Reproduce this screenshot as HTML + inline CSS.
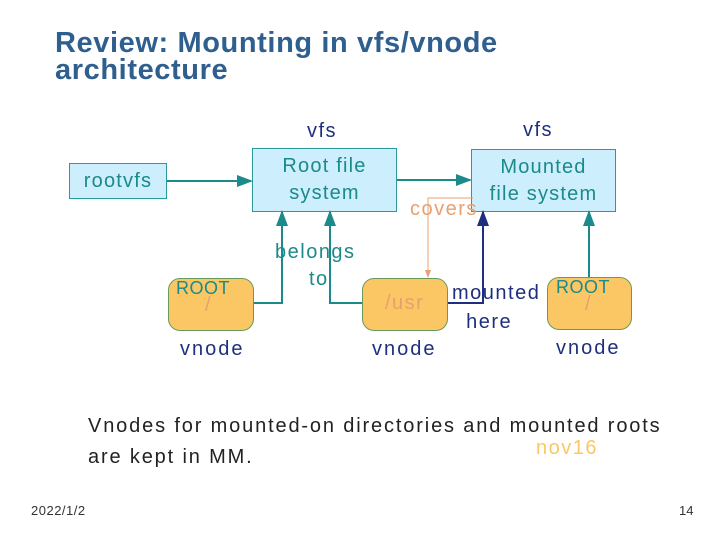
<!DOCTYPE html>
<html><head><meta charset="utf-8"><style>
body{margin:0;width:720px;height:540px;background:#fff;position:relative;overflow:hidden;font-family:"Liberation Sans",sans-serif}
.t{position:absolute;white-space:nowrap;letter-spacing:1.5px}
.box{position:absolute;background:#cdeefc;border:1px solid #2a9a9a;box-sizing:border-box;color:#1a8a8a;text-align:center;font-size:20px;line-height:27px;letter-spacing:1.2px}
.vn{position:absolute;background:#fbc765;border:1px solid #6a9a5a;border-radius:12px;box-sizing:border-box}
</style></head><body>
<div class="t" style="left:55px;top:30px;font-size:29px;font-weight:bold;color:#2f5f8f;line-height:27px;letter-spacing:0.6px">Review: Mounting in vfs/vnode<br>architecture</div>

<div class="t" style="left:307px;top:120px;font-size:20px;color:#1f2f7f">vfs</div>
<div class="t" style="left:523px;top:119px;font-size:20px;color:#1f2f7f">vfs</div>

<div class="box" style="left:69px;top:163px;width:98px;height:36px;line-height:34px">rootvfs</div>
<div class="box" style="left:252px;top:148px;width:145px;height:64px;padding-top:4px">Root file<br>system</div>
<div class="box" style="left:471px;top:149px;width:145px;height:63px;padding-top:4px">Mounted<br>file system</div>

<div class="vn" style="left:168px;top:278px;width:86px;height:53px"></div>
<div class="vn" style="left:362px;top:278px;width:86px;height:53px"></div>
<div class="vn" style="left:547px;top:277px;width:85px;height:53px"></div>

<svg style="position:absolute;left:0;top:0" width="720" height="540">
<defs>
<marker id="a" markerWidth="8" markerHeight="8" refX="7" refY="4" orient="auto"><path d="M0,1 L8,4 L0,7z" fill="#1a8a8a"/></marker>
<marker id="b" markerWidth="8" markerHeight="8" refX="7" refY="4" orient="auto"><path d="M0,1 L8,4 L0,7z" fill="#1f2f7f"/></marker>
<marker id="c" markerWidth="8" markerHeight="8" refX="7" refY="4" orient="auto"><path d="M0,1 L8,4 L0,7z" fill="#e8a070"/></marker>
</defs>
<g fill="none" stroke-width="2">
<path d="M167,181 H251" stroke="#1a8a8a" marker-end="url(#a)"/>
<path d="M397,180 H470" stroke="#1a8a8a" marker-end="url(#a)"/>
<path d="M254,303 H282 V212" stroke="#1a8a8a" marker-end="url(#a)"/>
<path d="M362,303 H330 V212" stroke="#1a8a8a" marker-end="url(#a)"/>
<path d="M589,277 V212" stroke="#1a8a8a" marker-end="url(#a)"/>
<path d="M448,303 H483 V212" stroke="#1f2f7f" marker-end="url(#b)"/>
<path d="M473,198 H428 V277" stroke="#e8a070" stroke-width="1" marker-end="url(#c)"/>
</g>
</svg>

<div class="t" style="left:410px;top:198px;font-size:20px;color:#e8a070">covers</div>
<div class="t" style="left:275px;top:239px;font-size:20px;color:#1a8a8a;text-align:center;line-height:27px">belongs<br>&nbsp;to</div>
<div class="t" style="left:176px;top:278px;font-size:18px;color:#1a8a8a;letter-spacing:0.5px">ROOT</div>
<div class="t" style="left:205px;top:294px;font-size:20px;color:#e8a070">/</div>
<div class="t" style="left:385px;top:292px;font-size:20px;color:#e8a070">/usr</div>
<div class="t" style="left:556px;top:277px;font-size:18px;color:#1a8a8a;letter-spacing:0.5px">ROOT</div>
<div class="t" style="left:585px;top:293px;font-size:20px;color:#e8a070">/</div>
<div class="t" style="left:452px;top:279px;font-size:20px;color:#1f2f7f;line-height:29px">mounted<br>&nbsp;&nbsp;here</div>

<div class="t" style="left:180px;top:338px;font-size:20px;color:#1f2f7f;letter-spacing:2px">vnode</div>
<div class="t" style="left:372px;top:338px;font-size:20px;color:#1f2f7f;letter-spacing:2px">vnode</div>
<div class="t" style="left:556px;top:337px;font-size:20px;color:#1f2f7f;letter-spacing:2px">vnode</div>

<div class="t" style="left:88px;top:411px;font-size:20px;color:#222;line-height:31px;letter-spacing:1.85px">Vnodes for mounted-on directories and mounted roots<br>are kept in MM.</div>
<div class="t" style="left:536px;top:437px;font-size:20px;color:#fbc765">nov16</div>

<div class="t" style="left:31px;top:503px;font-size:13px;color:#333;letter-spacing:0.5px">2022/1/2</div>
<div class="t" style="left:679px;top:503px;font-size:13px;color:#333;letter-spacing:0">14</div>
</body></html>
